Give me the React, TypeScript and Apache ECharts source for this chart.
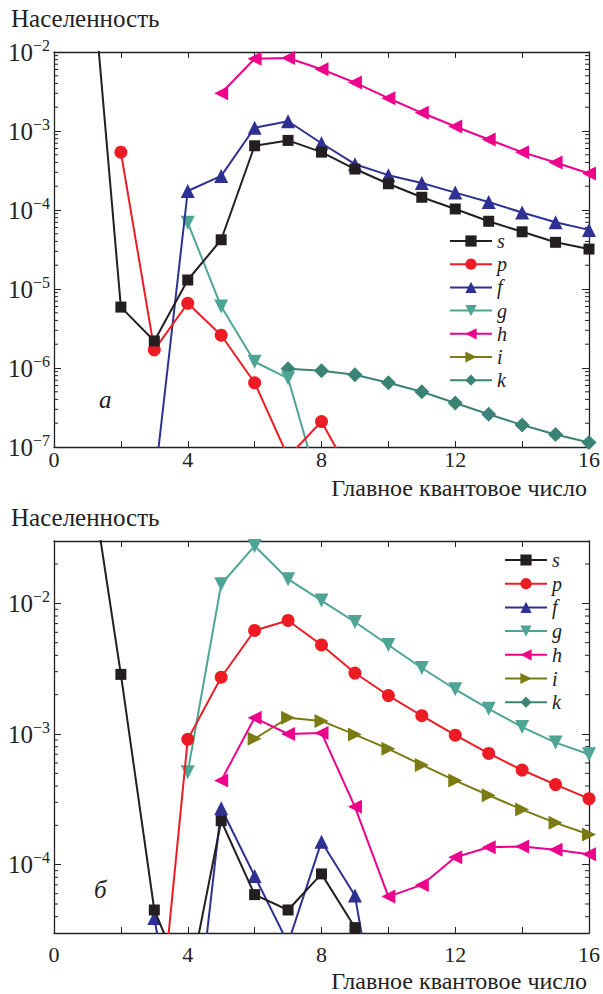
import React, { useEffect, useRef } from 'react';
import * as echarts from 'echarts';

// Principal quantum number n = 1..16
const N = [1, 2, 3, 4, 5, 6, 7, 8, 9, 10, 11, 12, 13, 14, 15, 16];
const X_TICKS = [0, 4, 8, 12, 16];
const NAMES = ['s', 'p', 'f', 'g', 'h', 'i', 'k'];

// Panel "а"
const topS = [0.47, 5.9e-6, 2.2e-6, 1.3e-5, 4.2e-5, 6.5e-4, 7.6e-4, 5.4e-4, 3.3e-4, 2.15e-4, 1.45e-4, 1.03e-4, 7.2e-5, 5.3e-5, 3.9e-5, 3.2e-5];
const topP = [null, 5.4e-4, 1.7e-6, 6.6e-6, 2.6e-6, 6.5e-7, 7.5e-8, 2.1e-7, 3.6e-8, null, null, null, null, null, null, null];
const topF = [null, null, 3.3e-8, 1.74e-4, 2.7e-4, 1.1e-3, 1.33e-3, 7.0e-4, 3.8e-4, 2.76e-4, 2.2e-4, 1.66e-4, 1.26e-4, 9.3e-5, 7.0e-5, 5.6e-5];
const topG = [null, null, null, 6.9e-5, 6.0e-6, 1.2e-6, 7.4e-7, 2.5e-8, null, null, null, null, null, null, null, null];
const topH = [null, null, null, null, 3.0e-3, 8.2e-3, 8.4e-3, 6.05e-3, 4.1e-3, 2.6e-3, 1.7e-3, 1.14e-3, 7.8e-4, 5.4e-4, 4.0e-4, 2.9e-4];
const topI = [null, null, null, null, null, null, null, null, null, null, null, null, null, null, null, null];
const topK = [null, null, null, null, null, null, 9.8e-7, 9.2e-7, 8.2e-7, 6.5e-7, 5.0e-7, 3.6e-7, 2.6e-7, 1.9e-7, 1.44e-7, 1.14e-7];

// Panel "б"
const botS = [0.14, 2.86e-3, 4.5e-5, 1.1e-5, 2.17e-4, 5.9e-5, 4.5e-5, 8.5e-5, 3.3e-5, null, null, null, null, null, null, null];
const botP = [null, null, 2.3e-6, 9.1e-4, 2.72e-3, 6.2e-3, 7.4e-3, 4.8e-3, 2.93e-3, 1.97e-3, 1.38e-3, 9.8e-4, 7.1e-4, 5.3e-4, 4.1e-4, 3.2e-4];
const botF = [null, null, 3.9e-5, 1.5e-6, 2.7e-4, 8.2e-5, 2.5e-5, 1.5e-4, 5.8e-5, 2.0e-6, null, null, null, null, null, null];
const botG = [null, null, null, 5.1e-4, 1.4e-2, 2.75e-2, 1.53e-2, 1.05e-2, 7.2e-3, 4.8e-3, 3.2e-3, 2.2e-3, 1.56e-3, 1.13e-3, 8.6e-4, 7.0e-4];
const botH = [null, null, null, null, 4.4e-4, 1.33e-3, 1.0e-3, 1.02e-3, 2.77e-4, 5.7e-5, 7.0e-5, 1.14e-4, 1.36e-4, 1.38e-4, 1.3e-4, 1.2e-4];
const botI = [null, null, null, null, null, 9.2e-4, 1.33e-3, 1.26e-3, 9.9e-4, 7.7e-4, 5.8e-4, 4.4e-4, 3.4e-4, 2.64e-4, 2.09e-4, 1.7e-4];
const botK = [null, null, null, null, null, null, null, null, null, null, null, null, null, null, null, null];

// Minor tick positions on the log axes
const topMinor = [2e-7, 3e-7, 4e-7, 5e-7, 6e-7, 7e-7, 8e-7, 9e-7, 2e-6, 3e-6, 4e-6, 5e-6, 6e-6, 7e-6, 8e-6, 9e-6, 2e-5, 3e-5, 4e-5, 5e-5, 6e-5, 7e-5, 8e-5, 9e-5, 2e-4, 3e-4, 4e-4, 5e-4, 6e-4, 7e-4, 8e-4, 9e-4, 2e-3, 3e-3, 4e-3, 5e-3, 6e-3, 7e-3, 8e-3, 9e-3];
const botMinor = [4e-5, 5e-5, 6e-5, 7e-5, 8e-5, 9e-5, 2e-4, 3e-4, 4e-4, 5e-4, 6e-4, 7e-4, 8e-4, 9e-4, 2e-3, 3e-3, 4e-3, 5e-3, 6e-3, 7e-3, 8e-3, 9e-3, 2e-2];

const COLORS: Record<string, string> = {
  s: '#231F20', p: '#ED1C24', f: '#2E3192', g: '#4FA595', h: '#EC008C', i: '#7B7B14', k: '#3B8374',
};
const SYMBOLS: Record<string, [string, number, number]> = {
  s: ['rect', 11, 0], p: ['circle', 13, 0], f: ['triangle', 14, 0], g: ['triangle', 14, 180],
  h: ['triangle', 14, 90], i: ['triangle', 14, -90], k: ['diamond', 15, 0],
};

const FONT = "'Liberation Serif', 'DejaVu Serif', serif";
const INK = '#222';

function pairs(vals: (number | null)[]) {
  return N.map((n, idx) => [n, vals[idx] === null ? null : vals[idx]]);
}

function yFormatter(v: number) {
  const l = Math.log10(v);
  const e = Math.round(l);
  if (Math.abs(l - e) > 1e-6) return '';
  return `{b|10}{e|−${-e}}`;
}

export default function App() {
  const ref = useRef<HTMLDivElement>(null);
  useEffect(() => {
    document.body.style.margin = '0';
    const chart = echarts.init(ref.current!, null, { renderer: 'svg' });
    const grids = [
      { left: 54, right: 13, top: 52, height: 395 },
      { left: 54, right: 13, top: 541, height: 392 },
    ];
    const yRanges = [[1e-7, 1e-2], [3e-5, 3e-2]];
    const xLabelMargin = [5, 14];
    const xAxis: any[] = [];
    const yAxis: any[] = [];
    grids.forEach((_, gi) => {
      const baseX = {
        gridIndex: gi, type: 'value', min: 0, max: 16, interval: 2,
        axisLine: { show: true, onZero: false, lineStyle: { color: INK, width: 1.3 } },
        axisTick: { show: true, inside: true, length: 6, lineStyle: { color: INK, width: 1 } },
        splitLine: { show: false },
      };
      xAxis.push({
        ...baseX, position: 'bottom',
        axisLabel: {
          show: true, margin: xLabelMargin[gi], color: INK, fontFamily: FONT, fontSize: 22, lineHeight: 15,
          formatter: (v: number) => (X_TICKS.includes(v) ? String(v) : ''),
        },
      });
      xAxis.push({ ...baseX, position: 'top', axisLabel: { show: false } });
      const baseY = {
        gridIndex: gi, type: 'log', logBase: 10, min: yRanges[gi][0], max: yRanges[gi][1],
        axisLine: { show: true, onZero: false, lineStyle: { color: INK, width: 1.3 } },
        axisTick: { show: true, inside: true, length: 7, lineStyle: { color: INK, width: 1 } },
        splitLine: { show: false }, minorTick: { show: false },
      };
      yAxis.push({
        ...baseY, position: 'left',
        axisLabel: {
          show: true, margin: 4, color: INK, formatter: yFormatter,
          rich: {
            b: { fontFamily: FONT, fontSize: 25, color: INK },
            e: { fontFamily: FONT, fontSize: 16, color: INK, padding: [0, 0, 14, 0] },
          },
        },
      });
      yAxis.push({ ...baseY, position: 'right', axisLabel: { show: false } });
    });

    const panelData = [
      [topS, topP, topF, topG, topH, topI, topK],
      [botS, botP, botF, botG, botH, botI, botK],
    ];
    const series: any[] = [];
    panelData.forEach((arrs, gi) => {
      arrs.forEach((vals, si) => {
        const name = NAMES[si];
        const [sym, size, rot] = SYMBOLS[name];
        series.push({
          type: 'line', name, xAxisIndex: gi * 2, yAxisIndex: gi * 2,
          data: pairs(vals as (number | null)[]),
          symbol: sym, symbolSize: size, symbolRotate: rot, showSymbol: true,
          connectNulls: false, clip: true,
          lineStyle: { color: COLORS[name], width: 2 },
          itemStyle: { color: COLORS[name], borderWidth: 0 },
          emphasis: { disabled: true },
          z: 3 + (6 - si),
        });
      });
      const minor = gi === 0 ? topMinor : botMinor;
      series.push({
        type: 'custom', name: 'minor' + gi, xAxisIndex: gi * 2, yAxisIndex: gi * 2,
        data: minor.map((v) => [0, v]), encode: { x: 0, y: 1 }, clip: false, silent: true,
        renderItem: (params: any, api: any) => {
          const v = api.value(1);
          const pl = api.coord([0, v]);
          const pr = api.coord([16, v]);
          const st = { stroke: INK, lineWidth: 1 };
          return {
            type: 'group',
            children: [
              { type: 'line', shape: { x1: pl[0], y1: pl[1], x2: pl[0] + 4, y2: pl[1] }, style: st },
              { type: 'line', shape: { x1: pr[0], y1: pr[1], x2: pr[0] - 4, y2: pr[1] }, style: st },
            ],
          };
        },
      });
    });

    const legendBase = {
      orient: 'vertical', data: NAMES, itemWidth: 42, itemHeight: 14, padding: 0,
      selectedMode: false, symbolRotate: 'inherit',
      textStyle: { fontFamily: FONT, fontStyle: 'italic', fontSize: 20, color: INK },
    };

    const txt = (text: string, pos: any, size: number, italic = false, lh = size) => ({
      type: 'text', ...pos,
      style: { text, fontFamily: FONT, fontSize: size, fontStyle: italic ? 'italic' : 'normal', fill: INK, lineHeight: lh },
    });

    chart.setOption({
      animation: false,
      backgroundColor: '#fff',
      grid: grids,
      xAxis, yAxis, series,
      legend: [
        { ...legendBase, left: 449, top: 231, itemGap: 3.2 },
        { ...legendBase, left: 504, top: 550, itemGap: 3.7 },
      ],
      graphic: [
        txt('Населенность', { left: 11, top: 6 }, 25),
        txt('Населенность', { left: 11, top: 505 }, 25),
        txt('Главное квантовое число', { right: 16, top: 476 }, 24, false, 20),
        txt('Главное квантовое число', { right: 16, top: 969 }, 24, false, 20),
        txt('а', { left: 99, top: 387 }, 25, true),
        txt('б', { left: 94, top: 877 }, 25, true),
      ],
    });
    return () => chart.dispose();
  }, []);
  return <div ref={ref} style={{ width: 603, height: 994 }} />;
}
